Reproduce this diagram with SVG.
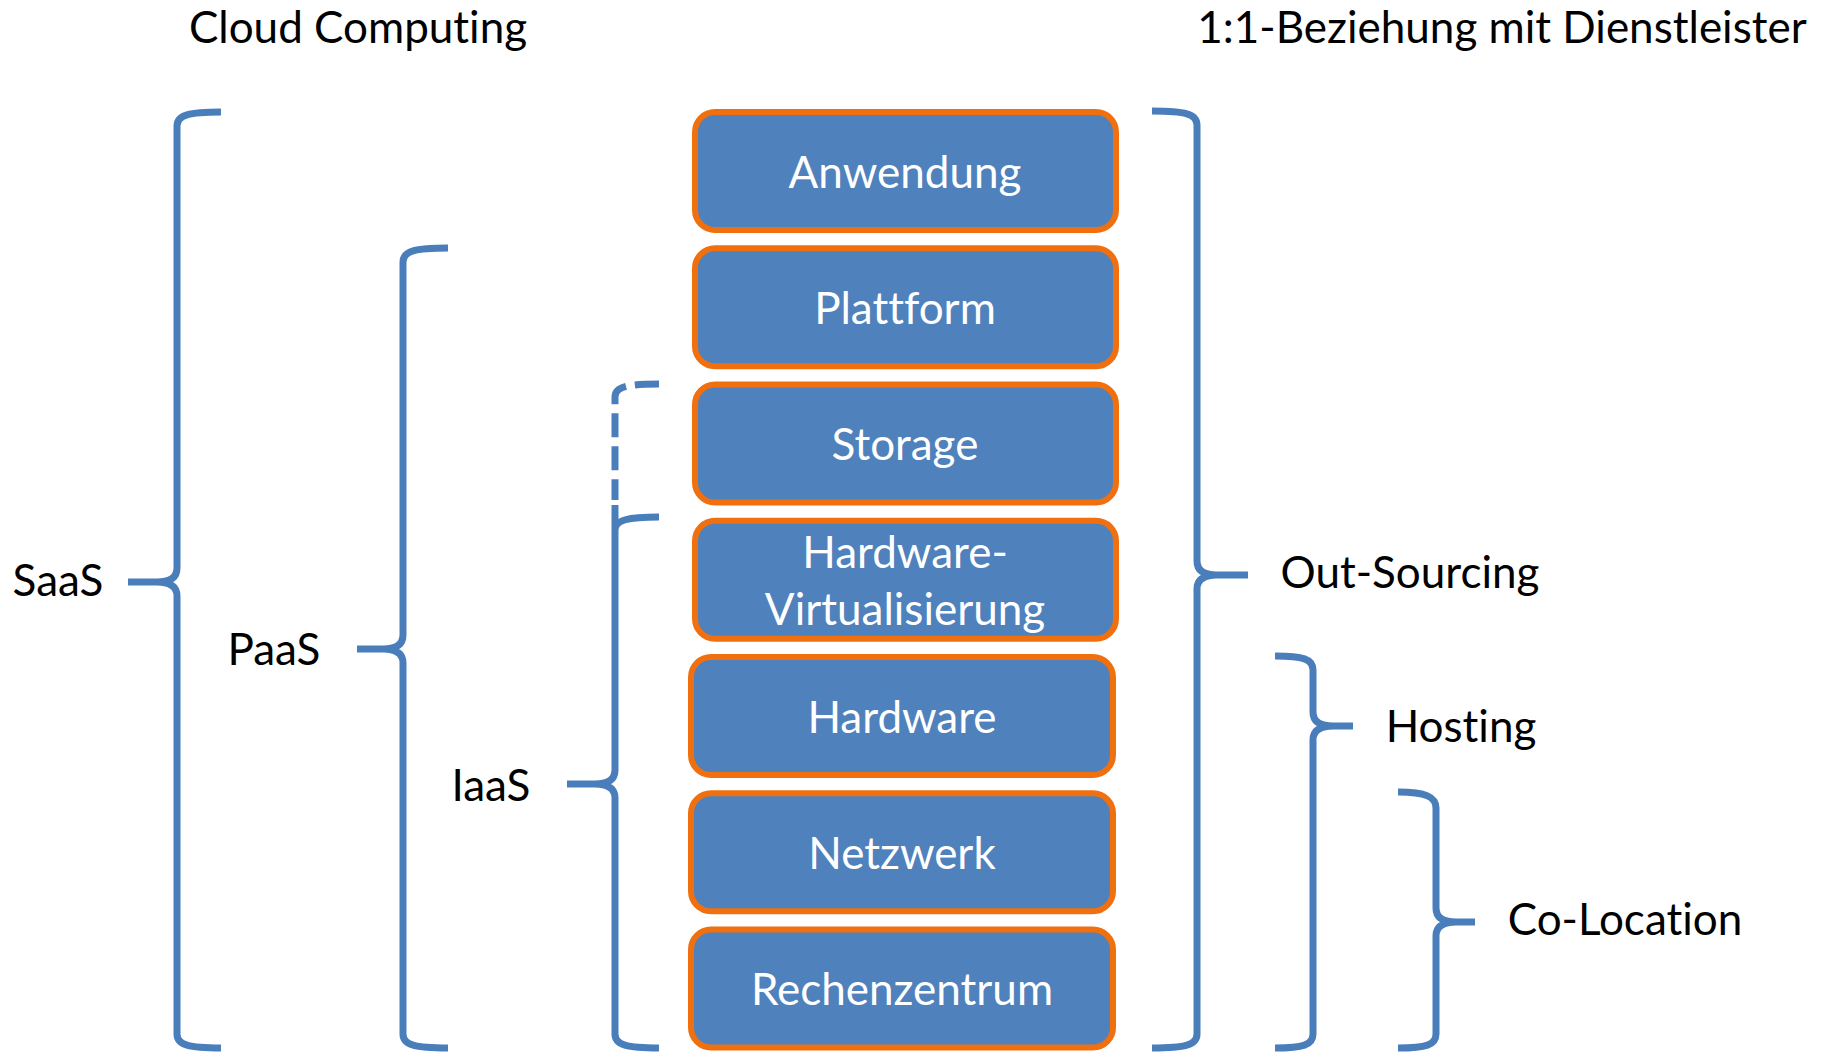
<svg xmlns="http://www.w3.org/2000/svg" width="1826" height="1052" viewBox="0 0 1826 1052">
<style>
.box rect{fill:#4F81BD;stroke:#F07010;stroke-width:6}
.box text{fill:#FFFFFF;font-family:Lato,"Open Sans",sans-serif;font-size:44px;text-anchor:middle;font-variant-ligatures:none;font-feature-settings:"liga" 0,"clig" 0,"calt" 0,"dlig" 0}
.lbl{fill:#000000;font-family:Lato,"Open Sans",sans-serif;font-size:44px;text-anchor:middle;font-variant-ligatures:none;font-feature-settings:"liga" 0,"clig" 0,"calt" 0,"dlig" 0}
.br{fill:none;stroke:#4A7EBB;stroke-width:7;stroke-linecap:butt;stroke-linejoin:round}
</style>
<rect width="1826" height="1052" fill="#FFFFFF"/>
<g id="titles">
<text class="lbl" x="358" y="43">Cloud Computing</text>
<text class="lbl" x="1502" y="43">1:1-Beziehung mit Dienstleister</text>
</g>
<g id="connectors">
<path class="br" d="M221 112 C189 112 177 115 177 126 L177 568 C177 578 169 582 157 582 L128 582 M157 582 C169 582 177 586 177 596 L177 1034 C177 1045 189 1048 221 1048"/>
<path class="br" d="M448 248 C415 248 403 251 403 262 L403 635 C403 645 395 649 383 649 L357 649 M383 649 C395 649 403 653 403 663 L403 1034 C403 1045 415 1048 448 1048"/>
<path class="br" d="M659 384 C627 384 615 387 615 397 L615 500" stroke-dasharray="24 9"/>
<path class="br" d="M659 517 C628 517 615 520 615 530 M615 505 L615 770 C615 780 607 784 595 784 L567 784 M595 784 C607 784 615 788 615 798 L615 1034 C615 1045 627 1048 659 1048"/>
<path class="br" d="M1152 111 C1185 111 1197 114 1197 125 L1197 561 C1197 571 1205 575 1217 575 L1248 575 M1217 575 C1205 575 1197 579 1197 589 L1197 1034 C1197 1045 1185 1048 1152 1048"/>
<path class="br" d="M1275 656 C1303 656 1313 659 1313 670 L1313 712 C1313 722 1321 726 1333 726 L1353 726 M1333 726 C1321 726 1313 730 1313 740 L1313 1034 C1313 1045 1303 1048 1275 1048"/>
<path class="br" d="M1398 792 C1426 792 1436 797 1436 808 L1436 908 C1436 918 1444 922 1456 922 L1475 922 M1456 922 C1444 922 1436 926 1436 936 L1436 1034 C1436 1045 1426 1048 1398 1048"/>
</g>
<g id="labels">
<text class="lbl" x="58" y="596">SaaS</text>
<text class="lbl" x="274" y="665">PaaS</text>
<text class="lbl" x="491" y="801">IaaS</text>
<text class="lbl" x="1410" y="588">Out-Sourcing</text>
<text class="lbl" x="1461" y="742">Hosting</text>
<text class="lbl" x="1625" y="935">Co-Location</text>
</g>
<g id="anwendung" class="box"><rect x="695" y="112" width="421" height="118" rx="20"/><text x="905" y="188">Anwendung</text></g>
<g id="plattform" class="box"><rect x="695" y="248.25" width="421" height="118" rx="20"/><text x="905" y="324">Plattform</text></g>
<g id="storage" class="box"><rect x="695" y="384.5" width="421" height="118" rx="20"/><text x="905" y="460">Storage</text></g>
<g id="hw-virt" class="box"><rect x="695" y="520.75" width="421" height="118" rx="20"/><text x="905" y="568">Hardware-</text><text x="905" y="625">Virtualisierung</text></g>
<g id="hardware" class="box"><rect x="691" y="657" width="422" height="118" rx="20"/><text x="902" y="733">Hardware</text></g>
<g id="netzwerk" class="box"><rect x="691" y="793.25" width="422" height="118" rx="20"/><text x="902" y="869">Netzwerk</text></g>
<g id="rechenzentrum" class="box"><rect x="691" y="929.5" width="422" height="118" rx="20"/><text x="902" y="1005">Rechenzentrum</text></g>
</svg>
